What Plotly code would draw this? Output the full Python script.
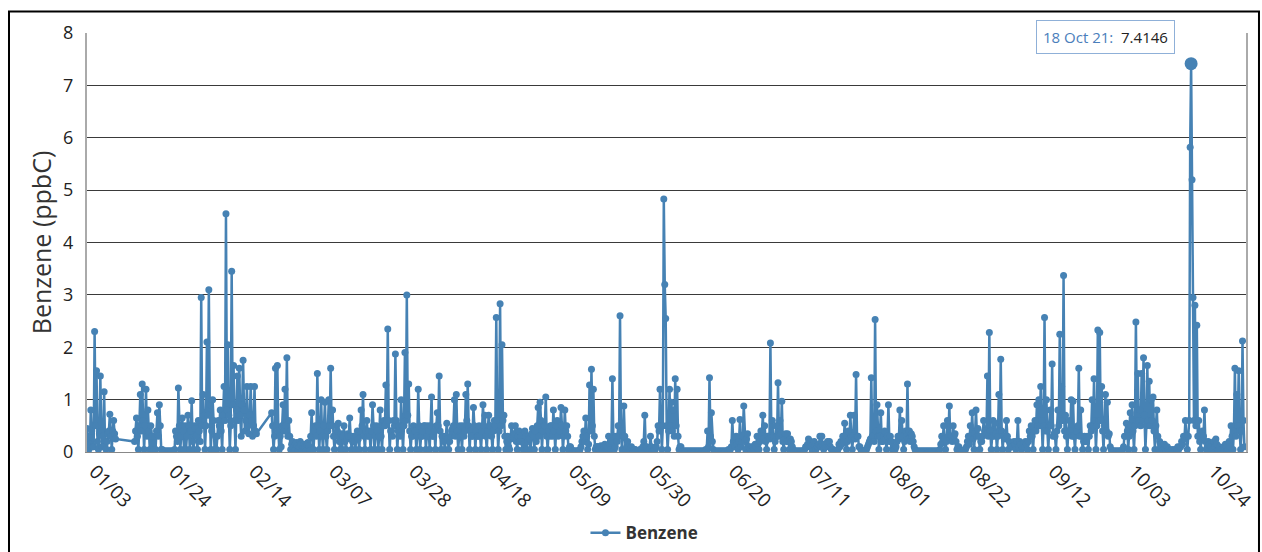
import pandas as pd
import plotly.graph_objects as go

N = None
# Benzene (ppbC).
# "*_main": values at 00:00 and 12:00 of each day; "*_mid": values at 06:00 and 18:00.
jan_main = [0.45, 0.05, 0.8, 0.1, 2.3, 1.55, 0.05, 1.45, 0.1, 1.15, 0.05, 0.35, 0.72, 0.05, 0.6, 0.25,
            N, N, N, N, N, N, N, N, N, 0.2,
            0.65, 0.05, 1.1, 1.3, 0.05, 1.2, 0.8, 0.05, 0.3, 0.05, 0.05, 0.75, 0.9, 0.05,
            0.02, 0.02, 0.02, 0.02, 0.02, 0.02, 0.05, 0.3, 1.22, 0.05, 0.65, 0.05, 0.05, 0.7,
            0.05, 0.98, 0.05, 0.45, 0.05, 0.4, 2.95, 1.1]
jan_mid = [0.3, 0.15, 0.4, 0.1, 0.5, 0.2, 0.35, 0.4, 0.3, 0.1, 0.2, 0.4, 0.3, 0.4, 0.35, N,
           N, N, N, N, N, N, N, N, N, 0.4,
           0.3, 0.5, 0.4, 0.6, 0.5, 0.3, 0.4, 0.5, 0.15, 0.3, 0.4, 0.3, 0.5, 0.05,
           0.02, 0.02, 0.02, 0.02, 0.02, 0.02,
           0.4, 0.2, 0.5, 0.3, 0.4, 0.5, 0.3, 0.5, 0.4, 0.2, 0.5, 0.3, 0.6, 0.2, 0.5, 0.7]

feb_main = [0.05, 2.1, 3.1, 0.05, 1.0, 0.05, 0.05, 0.6, 0.8, 0.05, 1.25, 4.55, 2.05, 0.05,
            3.45, 1.65, 0.05, 1.45, 1.6, 0.3, 1.75, 0.4, 1.25, 0.35, 1.25, 0.3, 1.25, 0.35,
            N, N, N, N, N, N, N, 0.75,
            0.05, 1.6, 1.65, 0.05, 0.1, 0.9, 1.2, 1.8, 0.6, 0.05, 0.2, 0.02, 0.18, 0.02,
            0.2, 0.02, 0.15, 0.02, 0.18, 0.02]
feb_mid = [0.5, 0.7, 0.9, 0.4, 0.6, 0.3, 0.3, 0.5, 0.4, 0.7, 0.6, 0.8, 0.7, 0.5,
           0.9, 0.6, 0.8, 0.6, 0.7, 0.9, 0.8, 0.6, 0.5, 0.7, 0.6, 0.5, 0.4, N,
           N, N, N, N, N, N, N, 0.5,
           0.3, 0.5, 0.4, 0.3, 0.5, 0.4, 0.5, 0.3, 0.3, 0.15, 0.1, 0.15, 0.12, 0.1,
           0.15, 0.1, 0.1, 0.15, 0.12, 0.3]

mar_main = [0.75, 0.05, 0.5, 1.5, 0.05, 1.0, 0.05, 0.95, 0.05, 1.0, 1.6, 0.8, 0.05, 0.5,
            0.55, 0.05, 0.05, 0.5, 0.05, 0.35, 0.65, 0.05, 0.3, 0.05, 0.4, 0.05, 0.8, 1.1,
            0.05, 0.6, 0.4, 0.05, 0.9, 0.05, 0.5, 0.05, 0.8, 0.05, 0.6, 1.28, 2.35, 0.05,
            0.4, 0.6, 1.87, 0.05, 0.5, 1.0, 0.05, 1.9, 3.0, 1.3, 0.05, 0.3, 0.4, 0.05,
            1.2, 0.05, 0.3, 0.5, 0.05, 0.5]
mar_mid = [0.3, 0.4, 0.3, 0.5, 0.4, 0.3, 0.5, 0.3, 0.4, 0.5, 0.5, 0.3, 0.3, 0.4,
           0.2, 0.35, 0.3, 0.2, 0.25, 0.3, 0.3, 0.2, 0.2, 0.3, 0.25, 0.4, 0.5, 0.3,
           0.4, 0.3, 0.3, 0.4, 0.5, 0.3, 0.4, 0.3, 0.3, 0.5, 0.5, 0.6, 0.6, 0.4,
           0.3, 0.5, 0.6, 0.4, 0.3, 0.5, 0.5, 0.6, 0.7, 0.4, 0.3, 0.5, 0.4, 0.3,
           0.5, 0.3, 0.4, 0.5, 0.3, 0.4]

apr_main = [0.05, 1.05, 0.3, 0.05, 0.75, 1.45, 0.05, 0.3, 0.05, 0.55, 0.05, 0.3, 0.45, 1.0,
            1.1, 0.05, 0.5, 0.05, 0.3, 1.1, 1.3, 0.05, 0.3, 0.85, 0.05, 0.3, 0.5, 0.05,
            0.9, 0.7, 0.05, 0.7, 0.5, 0.05, 0.6, 2.57, 0.05, 2.83, 2.05, 0.7, 0.05, 0.3,
            0.05, 0.5, 0.3, 0.5, 0.05, 0.4, 0.3, 0.05, 0.4, 0.05, 0.3, 0.05, 0.45, 0.05,
            0.2, 0.85, 0.95, 0.05]
apr_mid = [0.5, 0.3, 0.4, 0.5, 0.5, 0.4, 0.3, 0.2, 0.3, 0.25, 0.2, 0.4, 0.5, 0.3,
           0.4, 0.3, 0.3, 0.5, 0.4, 0.6, 0.5, 0.4, 0.3, 0.5, 0.4, 0.3, 0.3, 0.4,
           0.5, 0.3, 0.4, 0.5, 0.3, 0.4, 0.5, 0.6, 0.4, 0.5, 0.6, 0.3, 0.2, 0.1,
           0.25, 0.3, 0.35, 0.2, 0.3, 0.2, 0.2, 0.15, 0.3, 0.2, 0.25, 0.35, 0.3, 0.4,
           0.5, 0.3, 0.6, 0.4]

may_main = [0.5, 1.05, 0.05, 0.3, 0.5, 0.8, 0.05, 0.6, 0.4, 0.85, 0.05, 0.8, 0.5, 0.05,
            0.1, 0.02, 0.02, 0.02, 0.02, 0.05, 0.2, 0.4, 0.65, 0.05, 1.28, 1.58, 1.2, 0.05,
            0.1, 0.05, 0.12, 0.02, 0.15, 0.05, 0.3, 0.05, 1.4, 0.05, 0.3, 0.5, 2.6, 0.05,
            0.88, 0.05, 0.2, 0.02, 0.1, 0.02, 0.05, 0.02, 0.02, 0.05, 0.1, 0.7, 0.1, 0.02,
            0.3, 0.02, 0.05, 0.1, 0.5, 1.2]
may_mid = [0.5, 0.3, 0.4, 0.5, 0.3, 0.4, 0.5, 0.3, 0.4, 0.5, 0.3, 0.4, 0.3, 0.1,
           0.05, 0.02, 0.02, 0.02, 0.03, 0.1, 0.3, 0.2, 0.3, 0.15, 0.4, 0.5, 0.3, 0.1,
           0.1, 0.05, 0.05, 0.1, 0.1, 0.1, 0.15, 0.2, 0.3, 0.1, 0.2, 0.3, 0.4, 0.3,
           0.3, 0.1, 0.1, 0.05, 0.05, 0.05, 0.02, 0.02, 0.05, 0.02, 0.2, 0.1, 0.05, 0.05,
           0.1, 0.02, 0.05, 0.2, 0.4, 0.5]

jun_main = [0.05, 4.83, 2.55, 0.05, 1.2, 0.95, 0.8, 1.4, 1.2, 0.05, 0.1, 0.02, 0.02, 0.02,
            0.02, 0.02, 0.02, 0.02, 0.02, 0.02, 0.02, 0.02, 0.02, 0.05, 0.4, 1.42, 0.75, 0.05,
            0.02, 0.02, 0.02, 0.02, 0.02, 0.02, 0.02, 0.05, 0.05, 0.6, 0.15, 0.3, 0.05, 0.62,
            0.2, 0.88, 0.05, 0.35, 0.1, 0.02, 0.1, 0.15, 0.3, 0.05, 0.4, 0.7, 0.5, 0.05,
            0.3, 2.08, 0.6, 0.05]
jun_mid = [0.5, 3.2, 0.5, 0.4, 0.5, 0.4, 0.3, 0.5, 0.3, 0.1, 0.02, 0.02, 0.02, 0.02,
           0.02, 0.02, 0.02, 0.02, 0.02, 0.02, 0.02, 0.02, 0.02, 0.02, 0.1, 0.3, 0.2, 0.02,
           0.02, 0.02, 0.02, 0.02, 0.02, 0.02, 0.02, 0.02, 0.1, 0.2, 0.1, 0.15, 0.2, 0.1,
           0.3, 0.2, 0.25, 0.1, 0.05, 0.1, 0.05, 0.1, 0.15, 0.2, 0.3, 0.25, 0.2, 0.3,
           0.25, 0.3, 0.3, 0.2]

jul_main = [0.5, 1.32, 0.6, 0.97, 0.05, 0.35, 0.35, 0.05, 0.2, 0.05, 0.02, 0.02, 0.02, 0.02,
            0.02, 0.05, 0.1, 0.25, 0.2, 0.02, 0.2, 0.05, 0.1, 0.3, 0.3, 0.05, 0.1, 0.2,
            0.2, 0.05, 0.05, 0.02, 0.02, 0.15, 0.2, 0.3, 0.55, 0.05, 0.4, 0.7, 0.05, 0.7,
            1.48, 0.3, 0.1, 0.02, 0.02, 0.02, 0.1, 0.2, 1.42, 0.3, 2.53, 0.9, 0.05, 0.75,
            0.2, 0.4, 0.05, 0.9, 0.3, 0.05]
jul_mid = [0.3, 0.3, 0.35, 0.2, 0.3, 0.2, 0.2, 0.25, 0.1, 0.02, 0.02, 0.02, 0.02, 0.02,
           0.02, 0.1, 0.15, 0.1, 0.1, 0.15, 0.1, 0.1, 0.15, 0.1, 0.1, 0.15, 0.15, 0.1,
           0.1, 0.05, 0.02, 0.02, 0.05, 0.1, 0.15, 0.2, 0.3, 0.2, 0.25, 0.3, 0.3, 0.25,
           0.3, 0.1, 0.05, 0.02, 0.02, 0.05, 0.15, 0.25, 0.3, 0.2, 0.4, 0.3, 0.3, 0.2,
           0.3, 0.25, 0.3, 0.2, 0.2, 0.1]

aug_main = [0.05, 0.1, 0.3, 0.8, 0.6, 0.05, 0.4, 1.3, 0.4, 0.35, 0.2, 0.05, 0.02, 0.02,
            0.02, 0.02, 0.02, 0.02, 0.02, 0.02, 0.02, 0.02, 0.02, 0.02, 0.05, 0.3, 0.5, 0.05,
            0.6, 0.88, 0.3, 0.5, 0.35, 0.05, 0.1, 0.02, 0.02, 0.05, 0.1, 0.3, 0.5, 0.75,
            0.05, 0.8, 0.45, 0.05, 0.2, 0.6, 0.4, 1.45, 2.28, 0.05, 0.6, 0.55, 0.05, 1.1,
            1.77, 0.05, 0.3, 0.6, 0.05, 0.15]
aug_mid = [0.05, 0.2, 0.25, 0.3, 0.3, 0.2, 0.3, 0.25, 0.2, 0.3, 0.1, 0.02, 0.02, 0.02,
           0.02, 0.02, 0.02, 0.02, 0.02, 0.02, 0.02, 0.02, 0.02, 0.02, 0.15, 0.2, 0.25, 0.2,
           0.3, 0.25, 0.2, 0.3, 0.2, 0.1, 0.05, 0.02, 0.02, 0.05, 0.2, 0.15, 0.3, 0.25,
           0.35, 0.3, 0.3, 0.2, 0.3, 0.4, 0.35, 0.3, 0.4, 0.3, 0.3, 0.35, 0.3, 0.4,
           0.4, 0.3, 0.25, 0.3, 0.2, 0.1]

sep_main = [0.1, 0.2, 0.05, 0.6, 0.2, 0.05, 0.15, 0.2, 0.05, 0.4, 0.5, 0.05, 0.6, 0.9,
            1.0, 1.25, 0.05, 2.57, 1.0, 0.05, 0.8, 1.68, 0.35, 0.05, 0.8, 2.25, 1.25, 3.37,
            0.7, 0.05, 0.6, 1.0, 0.97, 0.05, 0.4, 1.6, 0.8, 0.05, 0.3, 0.2, 0.05, 0.5,
            1.0, 1.4, 0.05, 2.33, 2.28, 1.25, 0.05, 1.1, 0.95, 0.35, 0.05, 0.02, 0.02, 0.02,
            0.02, 0.02, 0.05, 0.3]
sep_mid = [0.1, 0.15, 0.2, 0.1, 0.15, 0.1, 0.1, 0.15, 0.2, 0.3, 0.3, 0.4, 0.4, 0.5,
           0.5, 0.6, 0.5, 0.4, 0.4, 0.5, 0.5, 0.3, 0.3, 0.4, 0.5, 0.6, 0.6, 0.4,
           0.3, 0.4, 0.4, 0.3, 0.3, 0.4, 0.5, 0.3, 0.3, 0.2, 0.2, 0.3, 0.3, 0.4,
           0.5, 0.6, 0.5, 0.6, 0.6, 0.4, 0.5, 0.4, 0.3, 0.1, 0.02, 0.02, 0.02, 0.02,
           0.02, 0.02, 0.1, 0.3]

oct_main = [0.55, 0.05, 0.75, 0.9, 0.05, 2.48, 1.5, 0.8, 1.5, 1.8, 0.05, 1.65, 1.35, 1.0,
            1.05, 0.05, 0.8, 0.05, 0.15, 0.02, 0.15, 0.02, 0.05, 0.02, 0.05, 0.02, 0.05, 0.1,
            0.1, 0.2, 0.3, 0.6, 0.05, 0.6, 7.4146, 2.95, 2.8, 2.42, 0.6, 0.05, 0.4, 0.8,
            0.05, 0.2, 0.15, 0.02, 0.2, 0.25, 0.02, 0.1, 0.05, 0.02, 0.15, 0.02, 0.2, 0.5,
            0.05, 1.6, 1.1, 1.55, 0.05, 2.12]
oct_mid = [0.4, 0.3, 0.5, 0.4, 0.5, 0.6, 0.6, 0.5, 0.6, 0.7, 0.5, 0.6, 0.5, 0.6,
           0.4, 0.5, 0.3, 0.2, 0.1, 0.05, 0.05, 0.1, 0.05, 0.02, 0.02, 0.05, 0.05, 0.05,
           0.1, 0.15, 0.25, 0.3, 0.3, 5.82, 5.2, 0.6, 0.5, 0.3, 0.2, 0.3, 0.3, 0.2,
           0.1, 0.15, 0.1, 0.05, 0.1, 0.15, 0.05, 0.05, 0.05, 0.1, 0.1, 0.05, 0.1, 0.3,
           0.4, 0.3, 0.5, 0.4, 0.4, 0.6]

nov_main = [0.1]
nov_mid = [N]

month_starts = ["2021-01-01", "2021-02-01", "2021-03-01", "2021-04-01", "2021-05-01",
                "2021-06-01", "2021-07-01", "2021-08-01", "2021-09-01", "2021-10-01",
                "2021-11-01"]
month_main = [jan_main, feb_main, mar_main, apr_main, may_main, jun_main, jul_main,
              aug_main, sep_main, oct_main, nov_main]
month_mid = [jan_mid, feb_mid, mar_mid, apr_mid, may_mid, jun_mid, jul_mid,
             aug_mid, sep_mid, oct_mid, nov_mid]

tick_dates = ["2021-01-03", "2021-01-24", "2021-02-14", "2021-03-07", "2021-03-28",
              "2021-04-18", "2021-05-09", "2021-05-30", "2021-06-20", "2021-07-11",
              "2021-08-01", "2021-08-22", "2021-09-12", "2021-10-03", "2021-10-24"]
tick_labels = ["01/03", "01/24", "02/14", "03/07", "03/28", "04/18", "05/09", "05/30",
               "06/20", "07/11", "08/01", "08/22", "09/12", "10/03", "10/24"]

highlight_date = "2021-10-18"
highlight_value = 7.4146

times, vals = [], []
for start, main, mid in zip(month_starts, month_main, month_mid):
    seq = []
    for m, d in zip(main, mid):
        seq.extend([m, d])
    ts = pd.date_range(start, periods=len(seq), freq="6h")
    for t, y in zip(ts, seq):
        if y is not None:
            times.append(t)
            vals.append(y)

COLOR = "#4682B4"
FONT = "Open Sans"

fig = go.Figure()
fig.add_trace(go.Scatter(
    x=times, y=vals, mode="lines+markers", name="Benzene",
    line=dict(color=COLOR, width=2.5),
    marker=dict(color=COLOR, size=7),
))
fig.add_trace(go.Scatter(
    x=[highlight_date], y=[highlight_value], mode="markers", showlegend=False,
    marker=dict(color=COLOR, size=13),
))

fig.update_layout(
    width=1262, height=552,
    margin=dict(l=87, r=16, t=33, b=100, autoexpand=False),
    paper_bgcolor="white", plot_bgcolor="white",
    font=dict(family=FONT, color="#333333"),
    showlegend=True,
    legend=dict(orientation="h", x=0.481, xanchor="center",
                yref="container", y=0.034, yanchor="middle",
                font=dict(size=17, family=FONT, color="#333333", weight="bold")),
    xaxis=dict(
        range=["2021-01-01 00:00", "2021-11-01 10:00"],
        tickvals=tick_dates, ticktext=tick_labels, tickangle=45,
        tickfont=dict(size=19, color="#222222"),
        showgrid=False, showline=True, linecolor="#888888", linewidth=1,
        zeroline=False, ticks="", automargin=False,
    ),
    yaxis=dict(
        range=[0, 8], dtick=1,
        showgrid=True, gridcolor="#3a3a3a", gridwidth=1,
        showline=True, mirror=True, linecolor="#aaaaaa", linewidth=2,
        zeroline=False, ticks="", ticklabelstandoff=8, automargin=False,
        tickfont=dict(size=18, color="#222222"),
        title=dict(text="Benzene (ppbC)", font=dict(size=25, color="#333333"), standoff=4),
    ),
    shapes=[dict(type="rect", xref="paper", yref="paper",
                 x0=-0.0673, x1=1.0112, y0=-0.35, y1=1.0513,
                 line=dict(color="black", width=2), fillcolor="rgba(0,0,0,0)")],
    annotations=[dict(
        xref="paper", yref="paper", x=0.8788, y=0.9916, xanchor="center", yanchor="middle",
        text="<span style='color:#4a7ebb'>18 Oct 21:</span>  <span style='color:#222222'>7.4146</span>",
        showarrow=False, font=dict(size=15, family=FONT),
        bgcolor="white", bordercolor="#8fb0d8", borderwidth=1, borderpad=6,
    )],
)

fig.write_html("out.html")
